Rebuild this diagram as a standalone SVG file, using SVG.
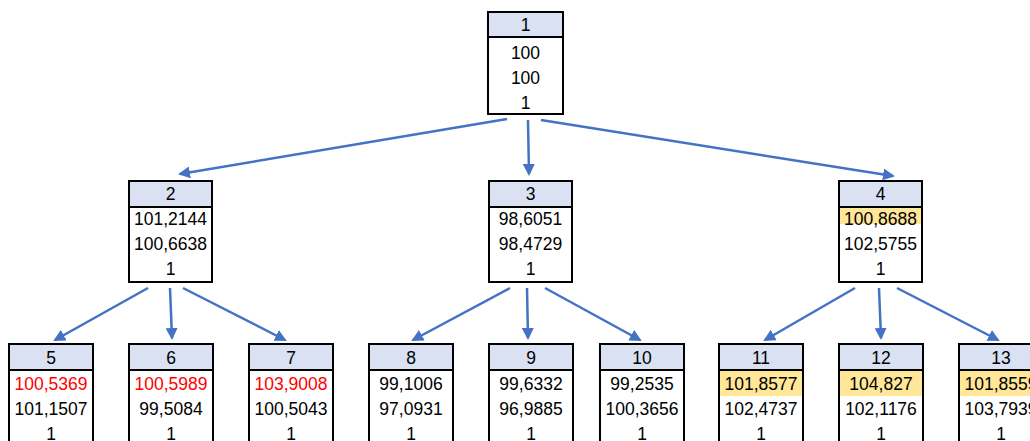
<svg xmlns="http://www.w3.org/2000/svg" width="1030" height="441" viewBox="0 0 1030 441">
<defs>
<marker id="ah" markerWidth="12" markerHeight="12" refX="10" refY="6" orient="auto" markerUnits="userSpaceOnUse"><path d="M0,0 L12,6 L0,12 z" fill="#4472C4"/></marker>
<style>
.box{fill:#fff;stroke:#000;stroke-width:2}
.hd{fill:#D9E1F2;stroke:#000;stroke-width:2}
.hl{fill:#FFE699}
text{font-family:"Liberation Sans",Arial,sans-serif;font-size:17.5px;fill:#000;text-anchor:middle}
.r{fill:#FF0000}
.e{stroke:#4472C4;stroke-width:2.5;fill:none;marker-end:url(#ah)}
</style>
</defs>
<rect width="1030" height="441" fill="#fff"/>
<g id="connectors">
<line class="e" x1="507" y1="119" x2="180" y2="174"/>
<line class="e" x1="528" y1="120" x2="529" y2="174"/>
<line class="e" x1="541" y1="120" x2="893" y2="176"/>
<line class="e" x1="148" y1="288" x2="55" y2="340"/>
<line class="e" x1="170" y1="288" x2="172" y2="338"/>
<line class="e" x1="183" y1="288" x2="285" y2="340"/>
<line class="e" x1="510" y1="288" x2="413" y2="340"/>
<line class="e" x1="527" y1="288" x2="528" y2="338"/>
<line class="e" x1="545" y1="288" x2="640" y2="340"/>
<line class="e" x1="855" y1="288" x2="765" y2="340"/>
<line class="e" x1="879" y1="288" x2="881" y2="338"/>
<line class="e" x1="897" y1="288" x2="998" y2="340"/>
</g>
<g id="n1">
<rect class="box" x="488" y="12" width="75" height="102"/>
<rect class="hd" x="488" y="12" width="75" height="25"/>
<text x="525.5" y="31">1</text>
<text x="525.5" y="59">100</text>
<text x="525.5" y="84">100</text>
<text x="525.5" y="109">1</text>
</g>
<g id="n2">
<rect class="box" x="129" y="181" width="83" height="101"/>
<rect class="hd" x="129" y="181" width="83" height="26"/>
<text x="170.5" y="200">2</text>
<text x="170.5" y="224.5">101,2144</text>
<text x="170.5" y="249.5">100,6638</text>
<text x="170.5" y="275">1</text>
</g>
<g id="n3">
<rect class="box" x="489" y="181" width="83" height="101"/>
<rect class="hd" x="489" y="181" width="83" height="26"/>
<text x="530.5" y="200">3</text>
<text x="530.5" y="224.5">98,6051</text>
<text x="530.5" y="249.5">98,4729</text>
<text x="530.5" y="275">1</text>
</g>
<g id="n4">
<rect class="box" x="839" y="181" width="83" height="101"/>
<rect class="hl" x="840" y="208" width="81" height="16"/>
<rect class="hd" x="839" y="181" width="83" height="26"/>
<text x="880.5" y="200">4</text>
<text x="880.5" y="224.5">100,8688</text>
<text x="880.5" y="249.5">102,5755</text>
<text x="880.5" y="275">1</text>
</g>
<g id="n5">
<rect class="box" x="9" y="344" width="84" height="110"/>
<rect class="hd" x="9" y="344" width="84" height="26"/>
<text x="51" y="363.5">5</text>
<text x="51" y="390" class="r">100,5369</text>
<text x="51" y="415">101,1507</text>
<text x="51" y="440">1</text>
</g>
<g id="n6">
<rect class="box" x="129" y="344" width="84" height="110"/>
<rect class="hd" x="129" y="344" width="84" height="26"/>
<text x="171" y="363.5">6</text>
<text x="171" y="390" class="r">100,5989</text>
<text x="171" y="415">99,5084</text>
<text x="171" y="440">1</text>
</g>
<g id="n7">
<rect class="box" x="249" y="344" width="84" height="110"/>
<rect class="hd" x="249" y="344" width="84" height="26"/>
<text x="291" y="363.5">7</text>
<text x="291" y="390" class="r">103,9008</text>
<text x="291" y="415">100,5043</text>
<text x="291" y="440">1</text>
</g>
<g id="n8">
<rect class="box" x="369" y="344" width="84" height="110"/>
<rect class="hd" x="369" y="344" width="84" height="26"/>
<text x="411" y="363.5">8</text>
<text x="411" y="390">99,1006</text>
<text x="411" y="415">97,0931</text>
<text x="411" y="440">1</text>
</g>
<g id="n9">
<rect class="box" x="489" y="344" width="84" height="110"/>
<rect class="hd" x="489" y="344" width="84" height="26"/>
<text x="531" y="363.5">9</text>
<text x="531" y="390">99,6332</text>
<text x="531" y="415">96,9885</text>
<text x="531" y="440">1</text>
</g>
<g id="n10">
<rect class="box" x="600" y="344" width="84" height="110"/>
<rect class="hd" x="600" y="344" width="84" height="26"/>
<text x="642" y="363.5">10</text>
<text x="642" y="390">99,2535</text>
<text x="642" y="415">100,3656</text>
<text x="642" y="440">1</text>
</g>
<g id="n11">
<rect class="box" x="719" y="344" width="84" height="110"/>
<rect class="hl" x="720" y="371" width="82" height="25"/>
<rect class="hd" x="719" y="344" width="84" height="26"/>
<text x="761" y="363.5">11</text>
<text x="761" y="390">101,8577</text>
<text x="761" y="415">102,4737</text>
<text x="761" y="440">1</text>
</g>
<g id="n12">
<rect class="box" x="839" y="344" width="84" height="110"/>
<rect class="hl" x="840" y="371" width="82" height="25"/>
<rect class="hd" x="839" y="344" width="84" height="26"/>
<text x="881" y="363.5">12</text>
<text x="881" y="390">104,827</text>
<text x="881" y="415">102,1176</text>
<text x="881" y="440">1</text>
</g>
<g id="n13">
<rect class="box" x="959" y="344" width="84" height="110"/>
<rect class="hl" x="960" y="371" width="82" height="25"/>
<rect class="hd" x="959" y="344" width="84" height="26"/>
<text x="1001" y="363.5">13</text>
<text x="1001" y="390">101,8559</text>
<text x="1001" y="415">103,7939</text>
<text x="1001" y="440">1</text>
</g>
</svg>
